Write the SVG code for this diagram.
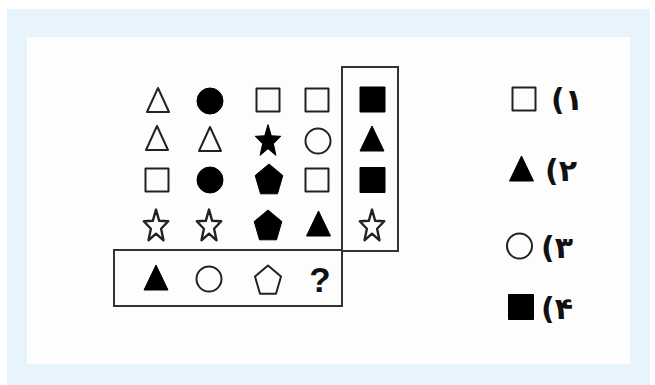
<svg xmlns="http://www.w3.org/2000/svg" xmlns:xlink="http://www.w3.org/1999/xlink" width="655" height="385" viewBox="0 0 655 385">
<style>
.o{fill:none;stroke:#222;stroke-width:2;stroke-linejoin:round}
.f{fill:#000;stroke:#000;stroke-width:1;stroke-linejoin:round}
.so{fill:none;stroke:#222;stroke-width:2.4;stroke-linejoin:round}
.box{fill:none;stroke:#333;stroke-width:2}
.opt{font-family:"DejaVu Sans",sans-serif;font-size:30px;font-weight:bold;fill:#111;letter-spacing:-2px}
.q{font-family:"Liberation Sans",Arial,sans-serif;font-size:35px;font-weight:bold;fill:#111;text-anchor:middle}
</style>
<defs>
<path id="tri-o" class="o" d="M0,-12 L11,12 L-11,12 Z"/>
<path id="tri-f" class="f" d="M0,-13 L12,12 L-12,12 Z"/>
<rect id="sq-o" class="o" x="-11.5" y="-11.5" width="23" height="23"/>
<rect id="sq-f" class="f" x="-12.5" y="-12.5" width="25" height="25"/>
<circle id="ci-o" class="o" r="12.5"/>
<circle id="ci-f" class="f" r="13"/>
<path id="st-o" class="so" d="M0,-15.4 L3.2,-4.2 L12.2,-3.7 L5.1,3.8 L7.5,15.3 L0,8.7 L-7.5,15.3 L-5.1,3.8 L-12.2,-3.7 L-3.2,-4.2 Z"/>
<path id="st-f" class="f" d="M0,-15.4 L3.3,-4.2 L12.8,-3.7 L5.4,3.8 L7.9,15.3 L0,8.7 L-7.9,15.3 L-5.4,3.8 L-12.8,-3.7 L-3.3,-4.2 Z"/>
<path id="pe-o" class="o" d="M0,-14.5 L13,-3.5 L8,13.8 L-8,13.8 L-13,-3.5 Z"/>
<path id="pe-f" class="f" d="M0,-15 L13.8,-3.5 L8.5,14.8 L-8.5,14.8 L-13.8,-3.5 Z"/>
</defs>
<rect x="7" y="9" width="643" height="376" fill="#e8f4fb"/>
<rect x="27" y="37" width="603" height="327" fill="#fdfdfd"/>
<g id="connectors">
<rect class="box" x="342" y="67" width="56" height="184"/>
<rect class="box" x="114" y="250" width="228" height="56"/>
</g>
<g id="row1">
<g id="r1c1"><use href="#tri-o" x="158" y="100"/></g>
<g id="r1c2"><use href="#ci-f" x="210" y="101"/></g>
<g id="r1c3"><use href="#sq-o" x="268" y="100"/></g>
<g id="r1c4"><use href="#sq-o" x="317" y="100"/></g>
<g id="r1c5"><use href="#sq-f" x="372.5" y="99.5"/></g>
</g>
<g id="row2">
<g id="r2c1"><use href="#tri-o" x="157" y="138"/></g>
<g id="r2c2"><use href="#tri-o" x="210" y="139"/></g>
<g id="r2c3"><use href="#st-f" x="268" y="140"/></g>
<g id="r2c4"><use href="#ci-o" x="318" y="141"/></g>
<g id="r2c5"><use href="#tri-f" x="372" y="139"/></g>
</g>
<g id="row3">
<g id="r3c1"><use href="#sq-o" x="157" y="180"/></g>
<g id="r3c2"><use href="#ci-f" x="210" y="180"/></g>
<g id="r3c3"><use href="#pe-f" x="269" y="179"/></g>
<g id="r3c4"><use href="#sq-o" x="317" y="180"/></g>
<g id="r3c5"><use href="#sq-f" x="372.5" y="180"/></g>
</g>
<g id="row4">
<g id="r4c1"><use href="#st-o" x="156" y="225"/></g>
<g id="r4c2"><use href="#st-o" x="209" y="225"/></g>
<g id="r4c3"><use href="#pe-f" x="268" y="225"/></g>
<g id="r4c4"><use href="#tri-f" x="318.5" y="224"/></g>
<g id="r4c5"><use href="#st-o" x="372" y="225"/></g>
</g>
<g id="row5">
<g id="r5c1"><use href="#tri-f" x="156" y="278"/></g>
<g id="r5c2"><use href="#ci-o" x="209" y="279"/></g>
<g id="r5c3"><use href="#pe-o" x="268" y="280"/></g>
<g id="r5c4"><text class="q" x="320" y="292">?</text></g>
</g>
<g id="opt1"><use href="#sq-o" x="524" y="99"/><text class="opt" x="551" y="110">(۱</text></g>
<g id="opt2"><use href="#tri-f" x="521.5" y="169"/><text class="opt" x="545" y="181">(۲</text></g>
<g id="opt3"><use href="#ci-o" x="519.5" y="246"/><text class="opt" x="541" y="258">(۳</text></g>
<g id="opt4"><use href="#sq-f" x="521" y="307"/><text class="opt" x="541" y="319">(۴</text></g>
</svg>
